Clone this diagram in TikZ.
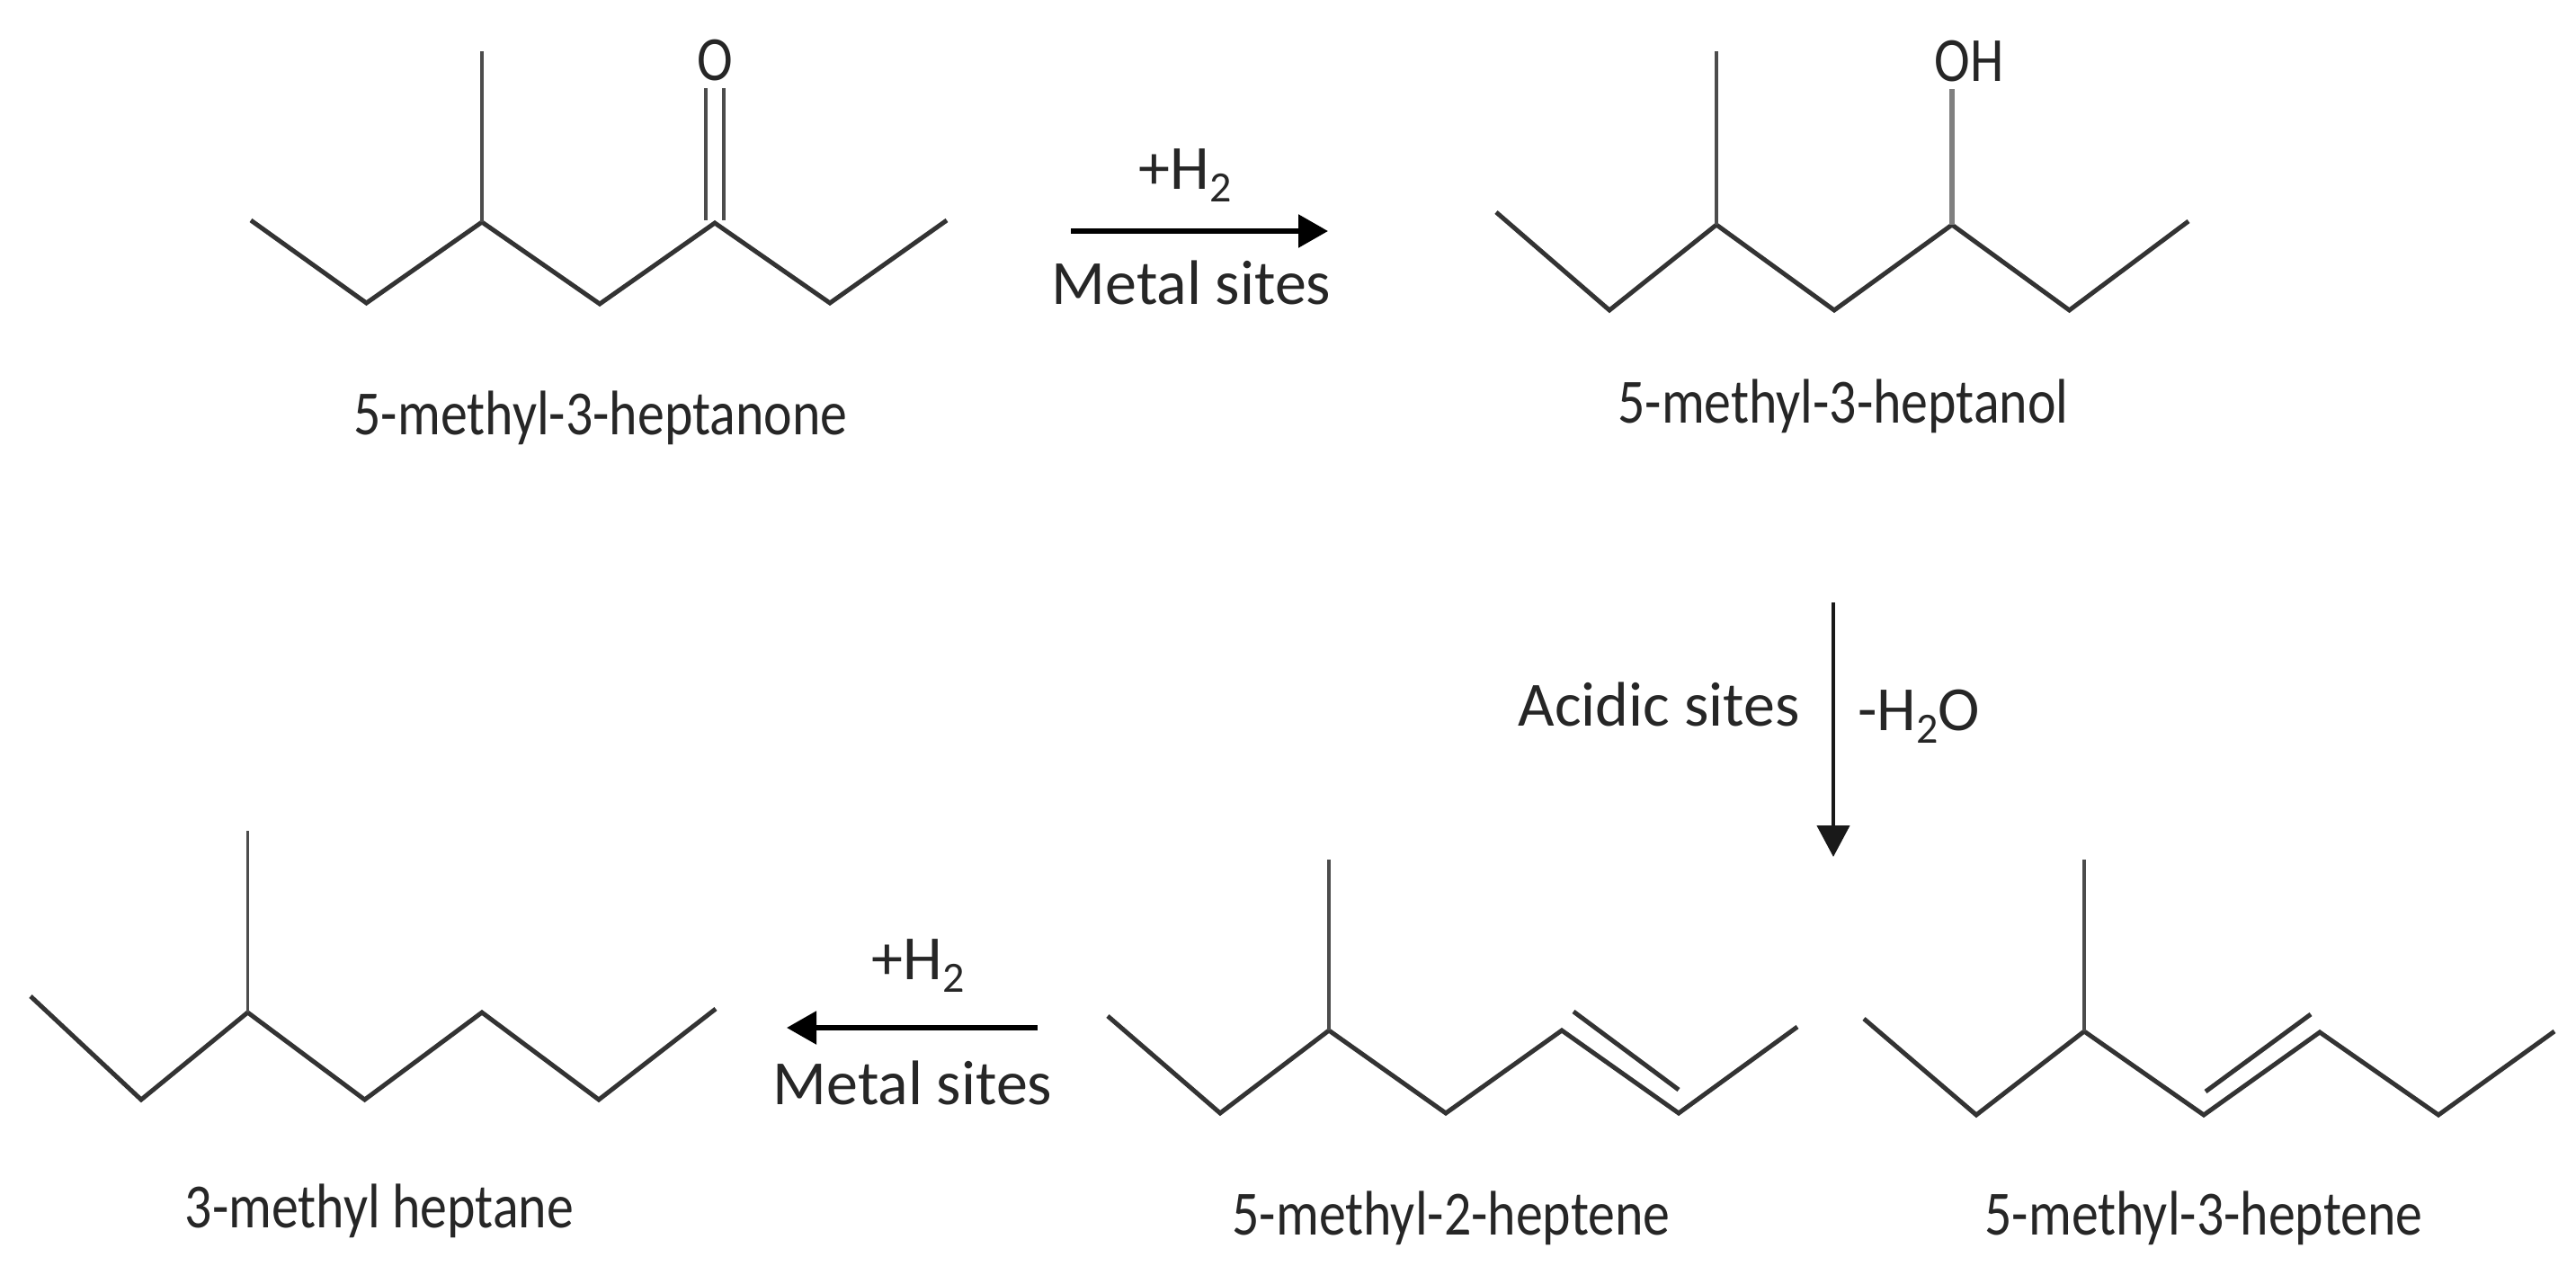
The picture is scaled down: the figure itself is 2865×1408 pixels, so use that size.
\documentclass[tikz,border=0pt]{standalone}
\usepackage{fontspec}
\setmainfont{Carlito}
\newfontfamily\molfam[FakeStretch=0.855]{Carlito}
\usetikzlibrary{arrows.meta}
\newcommand{\subtwo}{\raisebox{-0.2em}{\fontsize{48}{48}\selectfont 2}}
\tikzset{
  bond/.style={draw=black!80,line width=5pt,line cap=butt,line join=miter},
  thinbond/.style={draw=black!70,line width=3.5pt},
  greybond/.style={draw=black!50,line width=5.5pt},
  rxn/.style={draw=black,line width=5.5pt,-{Triangle[length=33pt,width=36pt]}},
  rxnv/.style={draw=black!90,line width=4.5pt,-{Triangle[length=35pt,width=36pt]}},
  txt/.style={inner sep=0pt,outer sep=0pt,anchor=base,text=black!85,font=\fontsize{70}{74}\selectfont},
  moltxt/.style={inner sep=0pt,outer sep=0pt,anchor=base,text=black!85,font=\molfam\fontsize{70}{74}\selectfont},
}
\begin{document}
\begin{tikzpicture}[x=1pt,y=-1pt]
\path[fill=white,use as bounding box] (0,0) rectangle (2865,1408);
% molecule 1
\coordinate (a1) at (279,245); \coordinate (a2) at (407.5,337); \coordinate (a3) at (536,247);
\coordinate (a4) at (667,338); \coordinate (a5) at (795,248); \coordinate (a6) at (923,337);
\coordinate (a7) at (1053,245); \coordinate (am) at (536,57);
\coordinate (ad1) at (785,98); \coordinate (ad1b) at (785,245);
\coordinate (ad2) at (805,98); \coordinate (ad2b) at (805,245);
\draw[bond] (a1)--(a2)--(a3)--(a4)--(a5)--(a6)--(a7);
\draw[thinbond] (a3)--(am);
\draw[thinbond] (ad1)--(ad1b);
\draw[thinbond] (ad2)--(ad2b);
\node[moltxt] (ao) at (795,89) {O};
\node[moltxt] (alab) at (668,483) {5-methyl-3-heptanone};
% arrow 1
\coordinate (r1s) at (1191,257); \coordinate (r1e) at (1477,257);
\draw[rxn] (r1s)--(r1e);
\node[txt] (r1t) at (1318,210) {+H\subtwo};
\node[txt] (r1b) at (1325,338) {Metal sites};
% molecule 2
\coordinate (b1) at (1664,236); \coordinate (b2) at (1790,345); \coordinate (b3) at (1909,250);
\coordinate (b4) at (2040,345); \coordinate (b5) at (2171,250); \coordinate (b6) at (2301.5,345);
\coordinate (b7) at (2434,246); \coordinate (bm) at (1909,57); \coordinate (bo) at (2171,99);
\draw[bond] (b1)--(b2)--(b3)--(b4)--(b5)--(b6)--(b7);
\draw[thinbond] (b3)--(bm);
\draw[greybond] (b5)--(bo);
\node[moltxt] (boh) at (2190,90) {OH};
\node[moltxt] (blab) at (2050,470) {5-methyl-3-heptanol};
% vertical arrow
\coordinate (r2s) at (2039,670); \coordinate (r2e) at (2039,953);
\draw[rxnv] (r2s)--(r2e);
\node[txt] (r2l) at (1845,807) {Acidic sites};
\node[txt] (r2r) at (2134,812) {-H\subtwo O};
% molecule 4
\coordinate (c1) at (1232,1130); \coordinate (c2) at (1357,1238); \coordinate (c3) at (1478,1146);
\coordinate (c4) at (1608,1238); \coordinate (c5) at (1737,1146); \coordinate (c6) at (1867,1238);
\coordinate (c7) at (1999,1142); \coordinate (cm) at (1478,956);
\coordinate (cd1) at (1750,1125); \coordinate (cd2) at (1867,1212);
\draw[bond] (c1)--(c2)--(c3)--(c4)--(c5)--(c6)--(c7);
\draw[thinbond] (c3)--(cm);
\draw[bond] (cd1)--(cd2);
\node[moltxt] (clab) at (1614,1373) {5-methyl-2-heptene};
% molecule 5
\coordinate (d1) at (2073,1133); \coordinate (d2) at (2198,1240); \coordinate (d3) at (2318,1147);
\coordinate (d4) at (2451,1240); \coordinate (d5) at (2580,1148); \coordinate (d6) at (2712,1240);
\coordinate (d7) at (2841,1147); \coordinate (dm) at (2318,956);
\coordinate (dd1) at (2453,1214); \coordinate (dd2) at (2570,1128);
\draw[bond] (d1)--(d2)--(d3)--(d4)--(d5)--(d6)--(d7);
\draw[thinbond] (d3)--(dm);
\draw[bond] (dd1)--(dd2);
\node[moltxt] (dlab) at (2451,1373) {5-methyl-3-heptene};
% arrow 3
\coordinate (r3s) at (1154,1143); \coordinate (r3e) at (875,1143);
\draw[rxn] (r3s)--(r3e);
\node[txt] (r3t) at (1021,1089) {+H\subtwo};
\node[txt] (r3b) at (1015,1228) {Metal sites};
% molecule 3
\coordinate (e1) at (34,1108); \coordinate (e2) at (157,1223); \coordinate (e3) at (275.5,1126);
\coordinate (e4) at (405.6,1223); \coordinate (e5) at (536,1126); \coordinate (e6) at (666,1223);
\coordinate (e7) at (796,1122); \coordinate (em) at (275.5,924);
\draw[bond] (e1)--(e2)--(e3)--(e4)--(e5)--(e6)--(e7);
\draw[thinbond] (e3)--(em);
\node[moltxt] (elab) at (422,1365) {3-methyl heptane};
\end{tikzpicture}
\end{document}
